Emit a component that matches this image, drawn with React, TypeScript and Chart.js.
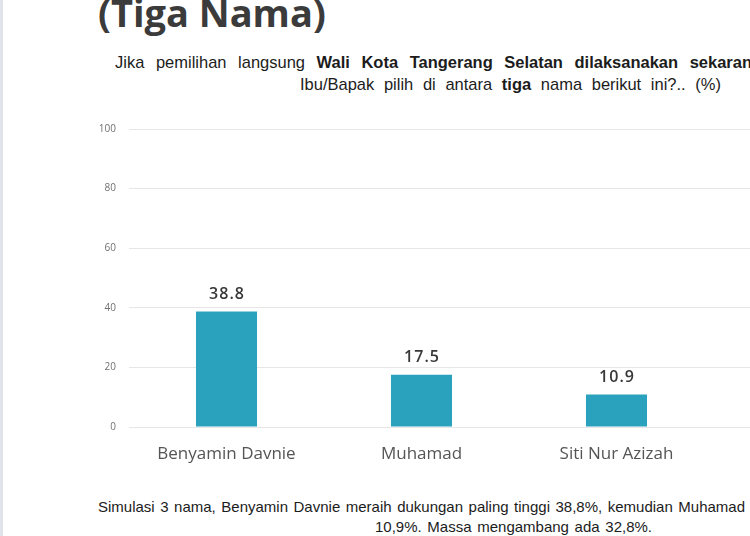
import React, { useEffect, useRef } from "react";
import { Chart, registerables } from "chart.js";

Chart.register(...registerables);

const categories: string[] = ["Benyamin Davnie", "Muhamad", "Siti Nur Azizah", ""];
const values: (number | null)[] = [38.8, 17.5, 10.9, null];
const yTicks: number[] = [0, 20, 40, 60, 80, 100];

const titleText = "(Tiga Nama)";
const subLine1a = "Jika pemilihan  langsung ";
const subLine1b = "Wali Kota Tangerang Selatan dilaksanakan sekaran";
const subLine2a = "Ibu/Bapak pilih di antara ";
const subLine2b = "tiga";
const subLine2c = " nama berikut ini?.. (%)";
const noteLine1 = "Simulasi 3 nama, Benyamin Davnie meraih dukungan paling tinggi 38,8%, kemudian Muhamad";
const noteLine2 = "10,9%. Massa mengambang ada 32,8%.";

const BAR_COLOR = "#2aa1bd";

const valueLabelPlugin = {
  id: "valueLabels",
  afterDatasetsDraw(chart: any) {
    const ctx = chart.ctx;
    const meta = chart.getDatasetMeta(0);
    ctx.save();
    ctx.font = "600 16px 'Open Sans'";
    ctx.fillStyle = "#383838";
    ctx.textAlign = "center";
    ctx.textBaseline = "alphabetic";
    (ctx as any).letterSpacing = "1px";
    meta.data.forEach((bar: any, i: number) => {
      const v = values[i];
      if (v === null || v === undefined) return;
      ctx.fillText(v.toFixed(1), bar.x + 0.5, bar.y - 12.5);
    });
    ctx.restore();
  },
};

function BarChart() {
  const ref = useRef<HTMLCanvasElement | null>(null);
  useEffect(() => {
    if (!ref.current) return;
    const chart = new Chart(ref.current, {
      type: "bar",
      data: {
        labels: categories,
        datasets: [
          {
            data: values as any,
            backgroundColor: BAR_COLOR,
            borderWidth: 0,
            barPercentage: 0.626,
            categoryPercentage: 0.5,
          },
        ],
      },
      options: {
        animation: false,
        responsive: false,
        maintainAspectRatio: false,
        layout: { padding: { top: 16, left: 0, right: 0, bottom: 0 } },
        plugins: {
          legend: { display: false },
          tooltip: { enabled: false },
          title: { display: false },
        },
        scales: {
          x: {
            grid: { display: false },
            border: { display: false },
            ticks: {
              color: "#555555",
              font: { family: "'Open Sans'", size: 17 },
              padding: 9,
              maxRotation: 0,
              autoSkip: false,
            },
            afterFit: (s: any) => {
              s.height = 60;
            },
          },
          y: {
            min: 0,
            max: 100,
            afterBuildTicks: (s: any) => {
              s.ticks = yTicks.map((v) => ({ value: v }));
            },
            grid: { color: "#e6e6e6", lineWidth: 1, drawTicks: false },
            border: { display: false },
            ticks: {
              color: "#707070",
              font: { family: "'Open Sans'", size: 10 },
              padding: 13,
            },
            afterFit: (s: any) => {
              s.width = 129;
            },
          },
        },
      },
      plugins: [valueLabelPlugin],
    });
    return () => chart.destroy();
  }, []);
  return (
    <canvas
      ref={ref}
      width={909}
      height={377}
      style={{ position: "absolute", left: 0, top: 110, width: 909, height: 377 }}
    />
  );
}

function NarrowLine(props: {
  left: number;
  top: number;
  width: number;
  size: number;
  squeeze: number;
  children: React.ReactNode;
}) {
  return (
    <div
      style={{
        position: "absolute",
        left: props.left,
        top: props.top,
        width: props.width / props.squeeze,
        whiteSpace: "nowrap",
        fontFamily: "'Liberation Sans', Arial, sans-serif",
        fontSize: props.size,
        lineHeight: 1,
        color: "#1c1c1c",
        textAlign: "justify",
        textAlignLast: "justify",
        transform: `scaleX(${props.squeeze})`,
        transformOrigin: "0 0",
      }}
    >
      {props.children}
    </div>
  );
}

export default function App() {
  return (
    <div
      style={{
        position: "fixed",
        left: 0,
        top: 0,
        width: 750,
        height: 536,
        overflow: "hidden",
        background: "#ffffff",
      }}
    >
      <div style={{ position: "absolute", left: 0, top: 0, width: 3, height: 536, background: "#e2e2ea" }} />
      <div
        style={{
          position: "absolute",
          left: 98,
          top: -10,
          whiteSpace: "pre",
          fontFamily: "'Open Sans', sans-serif",
          fontWeight: 700,
          fontSize: 38,
          color: "#3b3b3b",
          lineHeight: 1.2,
        }}
      >
        {titleText}
      </div>
      <NarrowLine left={115} top={54} width={637} size={17} squeeze={0.97}>
        {subLine1a}
        <b>{subLine1b}</b>
      </NarrowLine>
      <NarrowLine left={300} top={76} width={421} size={17} squeeze={0.97}>
        {subLine2a}
        <b>{subLine2b}</b>
        {subLine2c}
      </NarrowLine>
      <BarChart />
      <NarrowLine left={98} top={499} width={647} size={15} squeeze={1}>
        {noteLine1}
      </NarrowLine>
      <NarrowLine left={375} top={519} width={277} size={15} squeeze={1}>
        {noteLine2}
      </NarrowLine>
    </div>
  );
}
